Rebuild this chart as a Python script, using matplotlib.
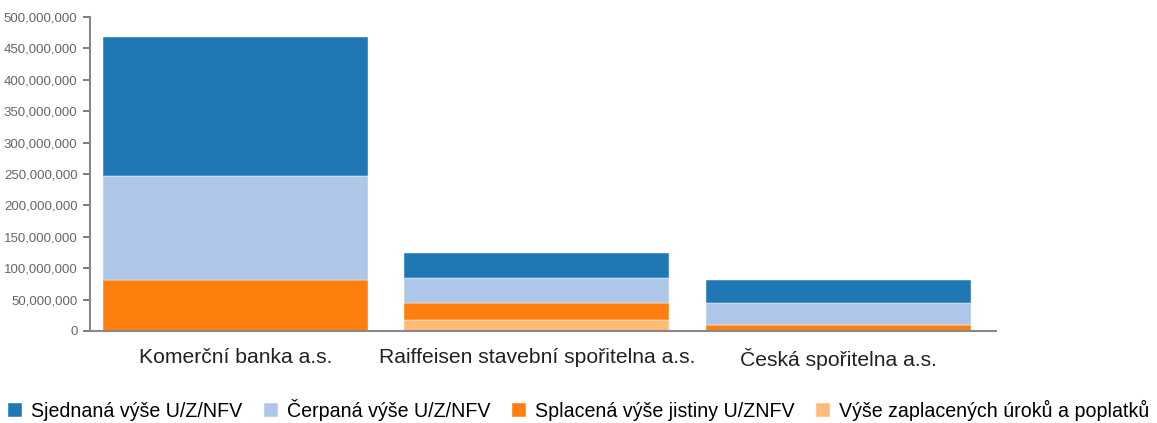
import numpy as np
import matplotlib.pyplot as plt
from matplotlib.ticker import FuncFormatter

plt.rcParams['font.family'] = ['Liberation Sans', 'DejaVu Sans']

# data (segment heights)
banks = ["Komerční banka a.s.", "Raiffeisen stavební spořitelna a.s.", "Česká spořitelna a.s."]
series = ["Sjednaná výše U/Z/NFV", "Čerpaná výše U/Z/NFV",
          "Splacená výše jistiny U/ZNFV", "Výše zaplacených úroků a poplatků"]
sjednana = [221e6, 38.8e6, 37e6]
cerpana = [166e6, 40.3e6, 35e6]
splacena = [81e6, 27.6e6, 9e6]
uroky = [0, 17e6, 0]

colors = ["#1f77b4", "#aec7e8", "#ff7f0e", "#ffbb78"]

fig = plt.figure(figsize=(11.57, 4.23), dpi=100)
ax = fig.add_axes([0.0778, 0.2175, 0.783, 0.7425])

x = np.arange(len(banks))
width = 0.88
# stack from bottom: uroky, splacena, cerpana, sjednana
stack = [(uroky, 3), (splacena, 2), (cerpana, 1), (sjednana, 0)]
bottom = np.zeros(len(banks))
handles = {}
for vals, idx in stack:
    vals = np.array(vals)
    b = ax.bar(x, vals, width, bottom=bottom, color=colors[idx],
               edgecolor="white", linewidth=0.3, label=series[idx])
    handles[idx] = b
    bottom = bottom + vals

ax.set_xlim(-0.482, 2.523)
ax.set_ylim(0, 500e6)
ax.set_yticks(np.arange(0, 500e6 + 1, 50e6))
ax.yaxis.set_major_formatter(FuncFormatter(lambda v, p: "{:,.0f}".format(v)))
ax.set_xticks(x)
ax.set_xticklabels(banks, fontsize=15.2, color="#222222")
ax.tick_params(axis="x", length=0, pad=12)
ax.tick_params(axis="y", labelsize=9.5, colors="#666666", length=5, width=1.2, pad=4)
for lab in ax.get_yticklabels():
    lab.set_color("#666666")

for s in ["top", "right"]:
    ax.spines[s].set_visible(False)
for s in ["left", "bottom"]:
    ax.spines[s].set_color("#888888")
    ax.spines[s].set_linewidth(1.5)

fig.legend([handles[i] for i in range(4)], series, loc="lower left",
           bbox_to_anchor=(-0.003, -0.022), ncol=4, frameon=False, fontsize=14.1,
           handlelength=0.72, handleheight=0.72, handletextpad=0.45,
           columnspacing=1.1, borderaxespad=0.2)

fig.savefig("out.png", dpi=100)
